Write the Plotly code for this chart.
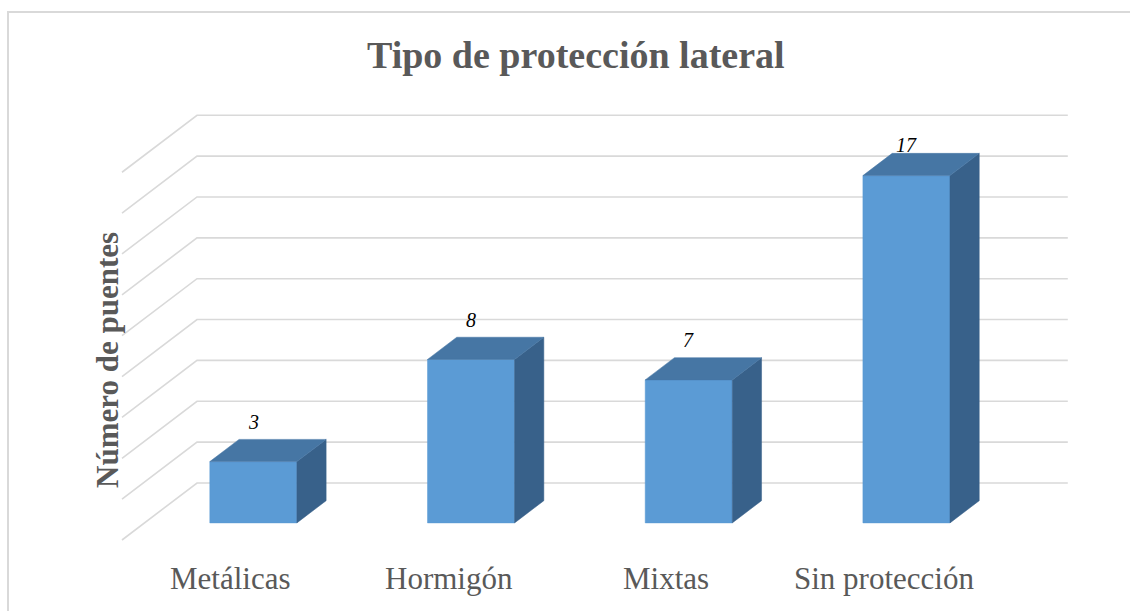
import plotly.graph_objects as go

# ---- data ----
categories = ["Metálicas", "Hormigón", "Mixtas", "Sin protección"]
values = [3, 8, 7, 17]
grid_values = [0, 2, 4, 6, 8, 10, 12, 14, 16, 18]
title_text = "Tipo de protección lateral"
y_title = "Número de puentes"

# ---- geometry / style (oblique 3D projection in data units) ----
W, H = 1130, 611
CAT_PX, UNIT_PX = 217.7, 20.43
ORIGIN_PX = (122, 540)
DX_WALL = 75 / CAT_PX      # depth shift along x (category units) at back wall
DY_WALL = 57 / UNIT_PX     # depth shift along y (value units) at back wall
FRONT_D, BACK_D = 0.30, 0.69
BAR_W = 0.40

FRONT_C = "#5B9BD5"
TOP_C = "#4676A4"
SIDE_C = "#38618A"
GRID_C = "#D9D9D9"
TEXT_C = "#595959"
SERIF = "Liberation Serif, Times New Roman, serif"

xr = [(0 - ORIGIN_PX[0]) / CAT_PX, (W - ORIGIN_PX[0]) / CAT_PX]
yr = [-(H - ORIGIN_PX[1]) / UNIT_PX, ORIGIN_PX[1] / UNIT_PX]

fig = go.Figure()

# gridlines: left diagonal (side wall) + horizontal on back wall
n = len(categories)
gx, gy = [], []
for g in grid_values:
    gx += [0, DX_WALL, n + DX_WALL, None]
    gy += [g, g + DY_WALL, g + DY_WALL, None]
fig.add_trace(go.Scatter(x=gx, y=gy, mode="lines",
                         line=dict(color=GRID_C, width=1.6),
                         hoverinfo="skip", showlegend=False))

fdx, fdy = FRONT_D * DX_WALL, FRONT_D * DY_WALL
bdx, bdy = BACK_D * DX_WALL, BACK_D * DY_WALL

def poly(xs, ys, color):
    fig.add_trace(go.Scatter(x=xs + [xs[0]], y=ys + [ys[0]], mode="lines",
                             fill="toself", fillcolor=color,
                             line=dict(color=color, width=0.5),
                             hoverinfo="skip", showlegend=False))

for i, v in enumerate(values):
    c = i + 0.5
    xl, xrr = c - BAR_W / 2, c + BAR_W / 2
    # front face
    poly([xl + fdx, xrr + fdx, xrr + fdx, xl + fdx],
         [fdy, fdy, v + fdy, v + fdy], FRONT_C)
    # side face
    poly([xrr + fdx, xrr + bdx, xrr + bdx, xrr + fdx],
         [fdy, bdy, v + bdy, v + fdy], SIDE_C)
    # top face
    poly([xl + fdx, xrr + fdx, xrr + bdx, xl + bdx],
         [v + fdy, v + fdy, v + bdy, v + bdy], TOP_C)

annotations = []
wall_top = max(grid_values) + DY_WALL
for i, v in enumerate(values):
    ly = min(v + bdy + 0.85, wall_top - 1.45)
    annotations.append(dict(x=i + 0.5 + fdx, y=ly, text=str(v), showarrow=False,
                            xanchor="center", yanchor="middle",
                            font=dict(family=SERIF, size=20, color="#000000",
                                      style="italic")))
for i, cat in enumerate(categories):
    annotations.append(dict(x=i + 0.5, y=-1.86, text=cat, showarrow=False,
                            xanchor="center", yanchor="middle",
                            font=dict(family=SERIF, size=31, color=TEXT_C)))
annotations.append(dict(x=107 / W, y=1 - 360 / H, xref="paper", yref="paper",
                        text="<b>" + y_title + "</b>", textangle=-90, showarrow=False,
                        xanchor="center", yanchor="middle",
                        font=dict(family=SERIF, size=31, color=TEXT_C)))
annotations.append(dict(x=576 / W, y=1 - 55 / H, xref="paper", yref="paper",
                        text="<b>" + title_text + "</b>", showarrow=False,
                        xanchor="center", yanchor="middle",
                        font=dict(family=SERIF, size=38, color=TEXT_C)))

fig.update_layout(
    width=W, height=H,
    margin=dict(l=0, r=0, t=0, b=0),
    paper_bgcolor="white", plot_bgcolor="white",
    xaxis=dict(range=xr, visible=False, fixedrange=True),
    yaxis=dict(range=yr, visible=False, fixedrange=True),
    annotations=annotations,
    shapes=[dict(type="rect", xref="paper", yref="paper",
                 x0=8 / W, y0=-0.3, x1=1.3, y1=1 - 12 / H,
                 line=dict(color=GRID_C, width=2), fillcolor="rgba(0,0,0,0)",
                 layer="below")],
)

fig.write_html("out.html", config={"displayModeBar": False},
               post_script="document.body.style.margin='0';document.body.style.overflow='hidden';")
